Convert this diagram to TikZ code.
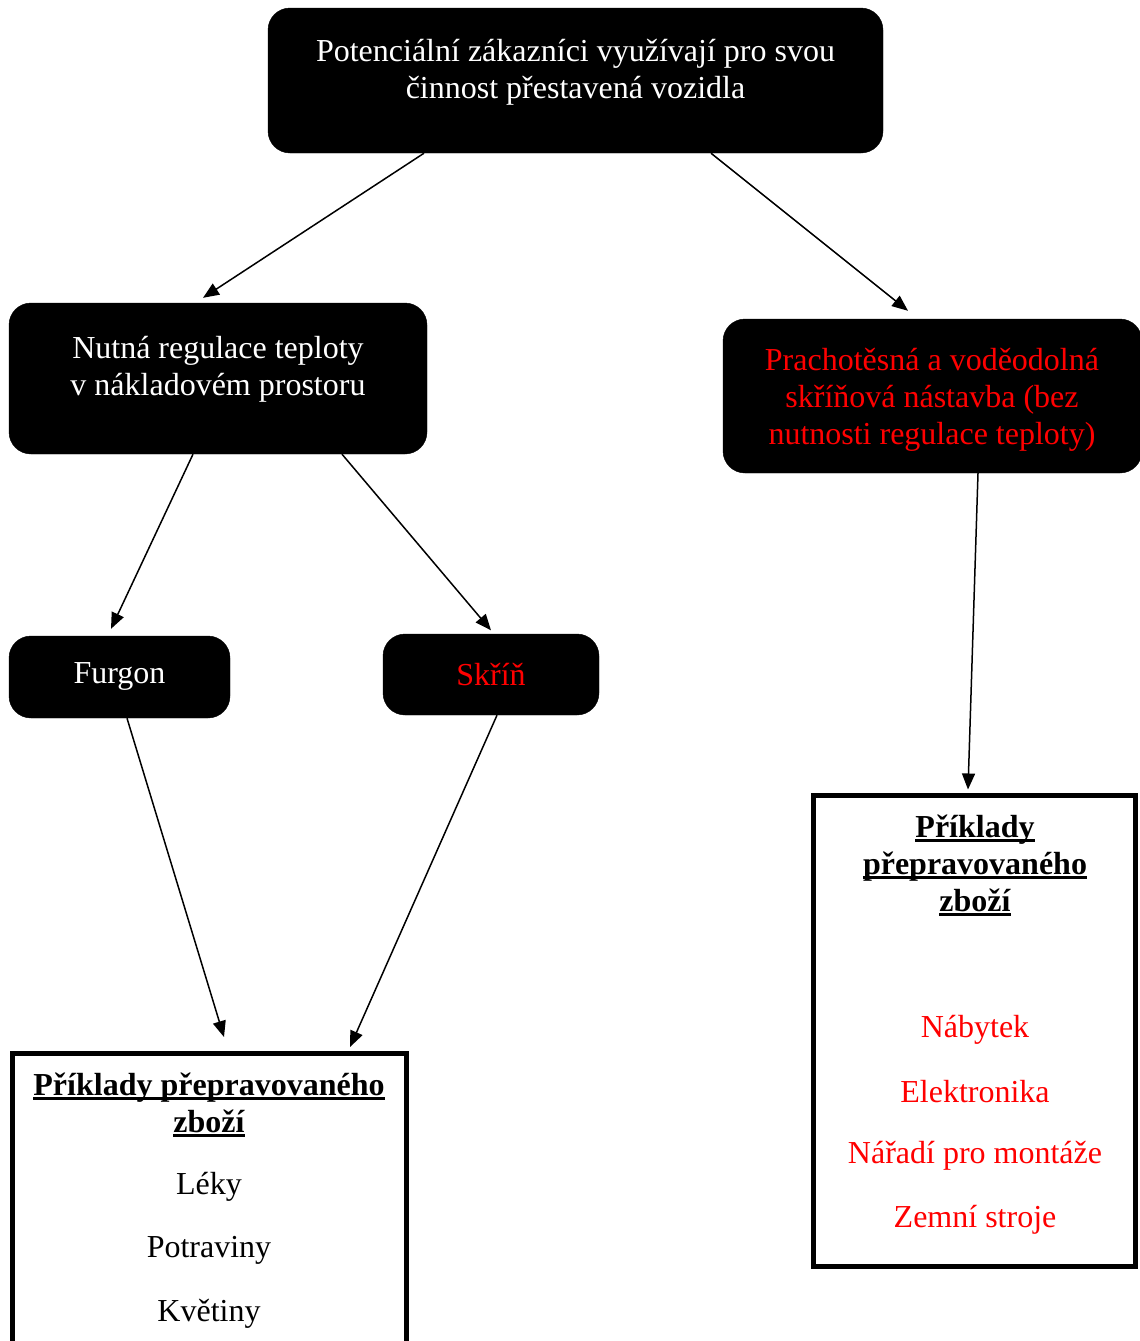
\documentclass[tikz,border=0pt]{standalone}
\usepackage{fontspec}
\setmainfont{Liberation Serif}
\usetikzlibrary{arrows.meta}
\newcommand\myul[1]{\setbox0\hbox{#1}\rlap{\rule[-4.5pt]{\wd0}{2.6pt}}\box0}
\begin{document}
\begin{tikzpicture}[x=1pt,y=-1pt,
  font=\fontsize{32}{37}\selectfont,
  blackbox/.style={fill=black, draw=black, rounded corners=22pt, inner sep=0pt},
  whitebox/.style={draw=black, line width=5pt, fill=white, inner sep=0pt},
  conn/.style={-{Triangle[length=16pt,width=13pt]}, line width=1.5pt},
  txt/.style={align=center, inner sep=0pt}]
\useasboundingbox (0,0) rectangle (1140,1341);
% boxes
\node[blackbox, minimum width=615pt, minimum height=145pt] (top) at (575.5,80.5) {};
\node[blackbox, minimum width=418pt, minimum height=151pt] (nut) at (218,378.5) {};
\node[blackbox, minimum width=419pt, minimum height=154pt] (prach) at (932.5,396) {};
\node[blackbox, minimum width=221pt, minimum height=82pt] (furgon) at (119.5,677) {};
\node[blackbox, minimum width=216pt, minimum height=81pt] (skrin) at (491,674.5) {};
\node[whitebox, minimum width=322pt, minimum height=471pt] (right) at (974.5,1030.5) {};
\node[whitebox, minimum width=394pt, minimum height=350pt] (left) at (209,1228.5) {};
% texts
\node[txt, text=white] (topT) at (575.5,72) {Potenciální zákazníci využívají pro svou\\činnost přestavená vozidla};
\node[txt, text=white] (nutT) at (218,369.5) {Nutná regulace teploty\\v nákladovém prostoru};
\node[txt, text=red] (prachT) at (932,400) {Prachotěsná a voděodolná\\skříňová nástavba (bez\\nutnosti regulace teploty)};
\node[txt, text=white] (furgonT) at (119.5,676.5) {Furgon};
\node[txt, text=red] (skrinT) at (491,675) {Skříň};
\node[txt, font=\fontsize{32}{37}\selectfont\bfseries] (rtitle) at (975,865) {\myul{Příklady}\\\myul{přepravovaného}\\\myul{zboží}};
\node[txt, text=red] (r1) at (975,1029.5) {Nábytek};
\node[txt, text=red] (r2) at (975,1092) {Elektronika};
\node[txt, text=red] (r3) at (975,1155.5) {Nářadí pro montáže};
\node[txt, text=red] (r4) at (975,1219.5) {Zemní stroje};
\node[txt, font=\fontsize{32}{37}\selectfont\bfseries] (ltitle) at (209,1104.5) {\myul{Příklady přepravovaného}\\\myul{zboží}};
\node[txt] (l1) at (209,1186.5) {Léky};
\node[txt] (l2) at (209,1250.5) {Potraviny};
\node[txt] (l3) at (209,1313.5) {Květiny};
% connectors
\draw[conn] ([xshift=-151.5pt]top.south) -- ([xshift=-15pt,yshift=5pt]nut.north);
\draw[conn] ([xshift=135.5pt]top.south) -- ([xshift=-24.5pt,yshift=8pt]prach.north);
\draw[conn] ([xshift=-25pt]nut.south) -- ([xshift=-8.5pt,yshift=7pt]furgon.north);
\draw[conn] ([xshift=124pt]nut.south) -- ([xshift=0pt,yshift=3.5pt]skrin.north);
\draw[conn] ([xshift=45.5pt]prach.south) -- ([xshift=-6.5pt,yshift=3pt]right.north);
\draw[conn] ([xshift=7.5pt]furgon.south) -- ([xshift=15pt,yshift=14pt]left.north);
\draw[conn] ([xshift=6pt]skrin.south) -- ([xshift=141pt,yshift=4pt]left.north);
\end{tikzpicture}
\end{document}
